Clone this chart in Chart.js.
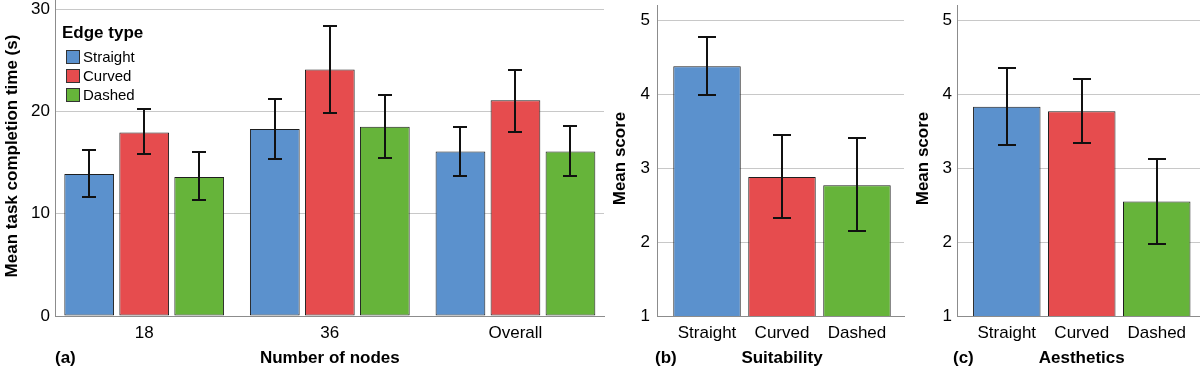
<!DOCTYPE html>
<html>
<head>
<meta charset="utf-8">
<script src="https://cdn.jsdelivr.net/npm/chart.js@4.4.1/dist/chart.umd.min.js"></script>
<style>
  html, body { margin: 0; padding: 0; background: #fff; }
  #wrap { position: relative; width: 1200px; height: 370px; overflow: hidden; }
  canvas { position: absolute; top: 0; }
</style>
</head>
<body>
<div id="wrap">
  <canvas id="chartTime" width="608" height="370" style="left:0"></canvas>
  <canvas id="chartSuit" width="300" height="370" style="left:608px"></canvas>
  <canvas id="chartAest" width="292" height="370" style="left:908px"></canvas>
</div>
<script>
// categories
const nodeGroups = ['18', '36', 'Overall'];
const edgeTypes = ['Straight', 'Curved', 'Dashed'];
const edgeColors = ['#5b91cd', '#e64c4e', '#66b43a'];

// (a) mean task completion time (s) with 95% CI
const timeStraight = [13.9, 18.3, 16.1];
const timeStraightLo = [11.6, 15.4, 13.7];
const timeStraightHi = [16.2, 21.2, 18.5];
const timeCurved = [17.95, 24.1, 21.1];
const timeCurvedLo = [15.8, 19.9, 18.0];
const timeCurvedHi = [20.2, 28.4, 24.1];
const timeDashed = [13.6, 18.5, 16.1];
const timeDashedLo = [11.3, 15.5, 13.65];
const timeDashedHi = [16.0, 21.6, 18.6];

// (b) suitability score
const suitMean = [4.38, 2.88, 2.77];
const suitLo = [3.99, 2.32, 2.15];
const suitHi = [4.77, 3.445, 3.41];

// (c) aesthetics score
const aestMean = [3.83, 3.77, 2.55];
const aestLo = [3.31, 3.34, 1.97];
const aestHi = [4.35, 4.21, 3.12];

const FONT = '"Liberation Sans", Arial, sans-serif';
Chart.defaults.color = '#000';
Chart.defaults.font.family = FONT;

const errorBars = {
  id: 'errorBars',
  afterDatasetsDraw(chart) {
    const ctx = chart.ctx;
    const y = chart.scales.y;
    chart.data.datasets.forEach((ds, di) => {
      const meta = chart.getDatasetMeta(di);
      meta.data.forEach((bar, i) => {
        const cx = Math.round(bar.x);
        const top = Math.round(y.getPixelForValue(ds.errHi[i]));
        const bot = Math.round(y.getPixelForValue(ds.errLo[i]));
        const cap = Math.round(bar.width * 0.14);
        ctx.save();
        ctx.strokeStyle = '#111';
        ctx.lineWidth = 2;
        ctx.beginPath();
        ctx.moveTo(cx, top); ctx.lineTo(cx, bot);
        ctx.moveTo(cx - cap, top); ctx.lineTo(cx + cap, top);
        ctx.moveTo(cx - cap, bot); ctx.lineTo(cx + cap, bot);
        ctx.stroke();
        ctx.restore();
      });
    });
  }
};

const panelText = {
  id: 'panelText',
  afterDraw(chart, args, opts) {
    const { ctx, chartArea: a } = chart;
    const x = chart.scales.x;
    ctx.save();
    ctx.fillStyle = '#000';
    ctx.font = 'bold 17px ' + FONT;
    ctx.textBaseline = 'middle';
    ctx.save();
    ctx.translate(opts.yTitleX, (a.top + a.bottom) / 2 - 2);
    ctx.rotate(-Math.PI / 2);
    ctx.textAlign = 'center';
    ctx.fillText(opts.yTitle, 0, 0);
    ctx.restore();
    ctx.textAlign = 'center';
    ctx.fillText(opts.xTitle, x.getPixelForValue(1), 358);
    ctx.textAlign = 'left';
    ctx.fillText(opts.letter, a.left + opts.letterDx, 358);

    if (opts.legend) {
      ctx.fillText('Edge type', 62, 33);
      ctx.font = '15px ' + FONT;
      edgeTypes.forEach((name, i) => {
        const top = 50 + i * 19;
        ctx.fillStyle = edgeColors[i];
        ctx.fillRect(66, top, 14, 14);
        ctx.strokeStyle = '#333';
        ctx.lineWidth = 1;
        ctx.strokeRect(66.5, top + 0.5, 13, 13);
        ctx.fillStyle = '#000';
        ctx.fillText(name, 83, top + 7.5);
      });
    }
    ctx.restore();
  }
};

function makeChart(id, cfg) {
  const labels = cfg.labels;
  return new Chart(document.getElementById(id), {
    type: 'bar',
    data: { datasets: cfg.datasets },
    plugins: [errorBars, panelText],
    options: {
      responsive: false,
      devicePixelRatio: 1,
      animation: false,
      layout: { padding: { left: 0, right: cfg.padRight, top: cfg.padTop, bottom: 0 } },
      categoryPercentage: cfg.catPct,
      barPercentage: cfg.barPct,
      plugins: {
        legend: { display: false },
        tooltip: { enabled: false },
        panelText: cfg.text
      },
      scales: {
        x: {
          type: 'linear',
          offset: false,
          min: cfg.xMin,
          max: cfg.xMax,
          afterBuildTicks: (axis) => { axis.ticks = labels.map((_, i) => ({ value: i })); },
          afterFit: (s) => { s.height = 54; s.paddingLeft = 0; s.paddingRight = 0; },
          grid: { display: false, drawTicks: false, offset: false },
          border: { display: true, color: '#8c8c8c', width: 1 },
          ticks: {
            autoSkip: false, maxRotation: 0, padding: 7,
            font: { size: 17 },
            callback: (v) => labels[v]
          }
        },
        y: {
          min: cfg.yMin,
          max: cfg.yMax,
          afterFit: (s) => { s.width = cfg.yWidth; s.paddingTop = 0; s.paddingBottom = 0; },
          grid: { color: '#c8c8c8', lineWidth: 1, drawTicks: false },
          border: { display: true, color: '#8c8c8c', width: 1 },
          ticks: { stepSize: cfg.yStep, includeBounds: false, padding: cfg.yPad, font: { size: 17 } }
        }
      }
    }
  });
}

function pts(vals) { return vals.map((v, i) => ({ x: i, y: v })); }

const barStyle = { borderColor: '#1e1e1e', borderWidth: 1, borderSkipped: false };

makeChart('chartTime', {
  labels: nodeGroups,
  datasets: [
    Object.assign({ label: edgeTypes[0], data: pts(timeStraight), backgroundColor: edgeColors[0], errLo: timeStraightLo, errHi: timeStraightHi }, barStyle),
    Object.assign({ label: edgeTypes[1], data: pts(timeCurved), backgroundColor: edgeColors[1], errLo: timeCurvedLo, errHi: timeCurvedHi }, barStyle),
    Object.assign({ label: edgeTypes[2], data: pts(timeDashed), backgroundColor: edgeColors[2], errLo: timeDashedLo, errHi: timeDashedHi }, barStyle)
  ],
  xMin: -0.4805, xMax: 2.477,
  yMin: 0, yMax: 30.91, yStep: 10, yPad: 5, yWidth: 55,
  padRight: 4, padTop: 0,
  catPct: 0.889, barPct: 0.904,
  text: { yTitle: 'Mean task completion time (s)', yTitleX: 12, xTitle: 'Number of nodes', letter: '(a)', letterDx: 0, legend: true }
});

makeChart('chartSuit', {
  labels: edgeTypes,
  datasets: [
    Object.assign({ label: 'Suitability', data: pts(suitMean), backgroundColor: edgeColors, errLo: suitLo, errHi: suitHi }, barStyle)
  ],
  xMin: -0.667, xMax: 2.627,
  yMin: 1, yMax: 5.207, yStep: 1, yPad: 7, yWidth: 49,
  padRight: 4, padTop: 5,
  catPct: 1, barPct: 0.9,
  text: { yTitle: 'Mean score', yTitleX: 12, xTitle: 'Suitability', letter: '(b)', letterDx: -2 }
});

makeChart('chartAest', {
  labels: edgeTypes,
  datasets: [
    Object.assign({ label: 'Aesthetics', data: pts(aestMean), backgroundColor: edgeColors, errLo: aestLo, errHi: aestHi }, barStyle)
  ],
  xMin: -0.664, xMax: 2.577,
  yMin: 1, yMax: 5.207, yStep: 1, yPad: 5, yWidth: 49,
  padRight: 0, padTop: 5,
  catPct: 1, barPct: 0.9,
  text: { yTitle: 'Mean score', yTitleX: 15, xTitle: 'Aesthetics', letter: '(c)', letterDx: -4 }
});
</script>
</body>
</html>
